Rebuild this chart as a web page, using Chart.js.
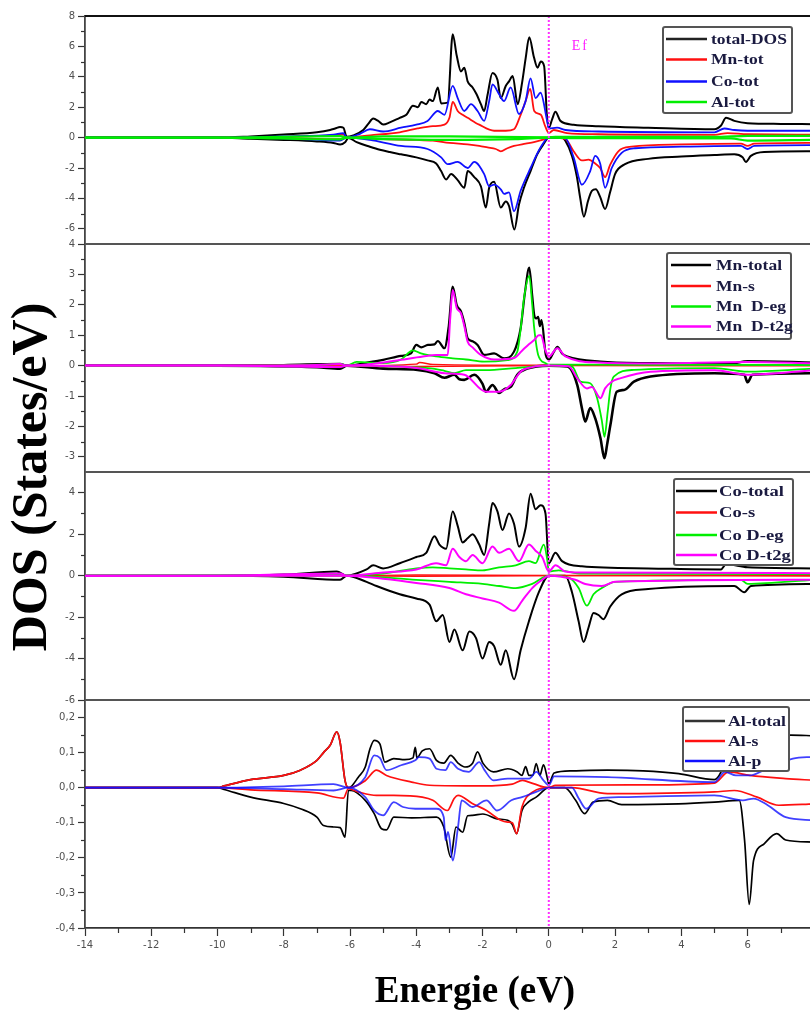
<!DOCTYPE html>
<html>
<head>
<meta charset="utf-8">
<title>DOS</title>
<script src="https://cdn.jsdelivr.net/npm/chart.js@4.4.0/dist/chart.umd.min.js"></script>
<style>
  html, body { margin: 0; padding: 0; background: #fff; overflow: hidden; }
  #wrap { position: relative; width: 810px; height: 1010px; overflow: hidden; }
  canvas { display: block; }
</style>
</head>
<body>
<div id="wrap"><canvas id="chart" width="820" height="1010"></canvas></div>
<script>
// energy axis
const xTicks = [-14, -12, -10, -8, -6, -4, -2, 0, 2, 4, 6, 8];
const xMinor = [-13, -11, -9, -7, -5, -3, -1, 1, 3, 5, 7];

// panel 1 : total DOS
const p1Labels = ['total-DOS', 'Mn-tot', 'Co-tot', 'Al-tot'];
const p1Ticks = [-6, -4, -2, 0, 2, 4, 6, 8];
const p1Minor = [-5, -3, -1, 1, 3, 5, 7];
const totalUp = [[-14,0],[-10,0],[-9,0.08],[-8,0.2],[-7,0.35],[-6.6,0.5],[-6.45,0.6],[-6.3,0.7],[-6.2,0.65],[-6.1,0.05],[-5.9,0.15],[-5.6,0.5],[-5.45,0.9],[-5.3,1.25],[-5.15,1.1],[-5.0,0.86],[-4.8,1.0],[-4.5,1.3],[-4.3,1.5],[-4.1,2.1],[-3.95,2.0],[-3.85,2.35],[-3.7,2.2],[-3.6,2.5],[-3.5,2.4],[-3.35,3.3],[-3.25,2.25],[-3.05,2.3],[-2.9,6.8],[-2.78,5.4],[-2.65,4.35],[-2.55,4.6],[-2.45,3.7],[-2.3,3.3],[-2.18,2.85],[-2.05,2.2],[-1.95,1.75],[-1.85,2.8],[-1.7,4.25],[-1.55,3.8],[-1.45,2.6],[-1.3,3.4],[-1.2,3.7],[-1.09,4.05],[-0.94,2.2],[-0.8,3.7],[-0.7,5.2],[-0.59,6.6],[-0.45,5.3],[-0.34,4.6],[-0.24,5.0],[-0.14,4.7],[-0.06,1.55],[0,0.65],[0.1,1.2],[0.2,1.7],[0.35,1.1],[0.75,0.85],[1.5,0.75],[3,0.65],[5.0,0.55],[5.2,0.8],[5.35,1.3],[5.6,1.1],[6.0,0.95],[7,0.9],[8,0.88]];
const totalDn = [[-14,0],[-10,0],[-9,-0.08],[-8,-0.15],[-7,-0.25],[-6.5,-0.35],[-6.3,-0.45],[-6.15,-0.3],[-6.05,-0.02],[-5.8,-0.3],[-5.4,-0.6],[-5.1,-0.8],[-4.8,-0.95],[-4.46,-1.1],[-4.0,-1.3],[-3.66,-1.5],[-3.4,-1.7],[-3.25,-2.2],[-3.1,-2.75],[-2.95,-2.4],[-2.75,-2.8],[-2.55,-3.3],[-2.45,-2.2],[-2.25,-2.6],[-2.05,-3.2],[-1.9,-4.6],[-1.8,-3.3],[-1.65,-2.9],[-1.45,-4.6],[-1.3,-4.2],[-1.2,-4.5],[-1.04,-6.05],[-0.9,-4.4],[-0.75,-3.3],[-0.55,-2.2],[-0.35,-1.1],[-0.15,-0.4],[0,0],[0.4,0],[0.5,-0.2],[0.7,-1.2],[0.85,-2.6],[0.95,-4.0],[1.06,-5.2],[1.18,-4.2],[1.3,-3.5],[1.42,-3.4],[1.55,-3.9],[1.7,-4.7],[1.85,-3.6],[2.0,-2.4],[2.3,-1.75],[3,-1.4],[4,-1.25],[5,-1.15],[5.6,-1.1],[5.85,-1.3],[5.95,-1.6],[6.1,-1.2],[6.5,-0.95],[8,-0.9]];
const mnUp = [[-14,0],[-10,0],[-8,0.05],[-6.5,0.15],[-6.2,0.2],[-6.1,0],[-5.4,0.15],[-4.5,0.35],[-3.96,0.6],[-3.5,0.75],[-3.15,0.85],[-3.0,1.3],[-2.9,2.35],[-2.75,1.75],[-2.6,1.5],[-2.45,1.3],[-2.1,0.85],[-1.65,0.45],[-1.3,0.45],[-1.05,0.55],[-0.85,1.5],[-0.7,2.4],[-0.56,3.2],[-0.44,1.75],[-0.24,1.5],[-0.1,0.7],[0,0.3],[0.15,0.5],[0.55,0.3],[1.5,0.22],[5,0.18],[5.4,0.3],[6,0.22],[8,0.2]];
const mnDn = [[-14,0],[-10,0],[-8,-0.03],[-6.3,-0.1],[-6.1,0],[-5,-0.1],[-4,-0.15],[-3.5,-0.2],[-3.0,-0.35],[-2.45,-0.45],[-2.1,-0.55],[-1.85,-0.65],[-1.6,-0.75],[-1.45,-0.9],[-1.25,-0.7],[-1.05,-0.55],[-0.7,-0.4],[-0.45,-0.3],[-0.2,-0.15],[0,0],[0.5,-0.1],[0.75,-0.9],[1.0,-1.5],[1.2,-1.45],[1.4,-1.7],[1.55,-2.0],[1.7,-2.6],[1.85,-1.8],[2.1,-0.9],[2.5,-0.6],[4,-0.45],[5.8,-0.4],[6.0,-0.55],[6.2,-0.4],[8,-0.35]];
const coUp = [[-14,0],[-10,0],[-8,0.08],[-6.5,0.2],[-6.2,0.3],[-6.1,0],[-5.7,0.25],[-5.4,0.55],[-5.0,0.4],[-4.46,0.65],[-4.0,0.85],[-3.66,1.1],[-3.35,1.75],[-3.15,1.5],[-2.9,3.4],[-2.75,2.6],[-2.55,1.75],[-2.35,2.2],[-2.15,1.75],[-1.95,1.1],[-1.8,2.4],[-1.7,3.5],[-1.5,2.85],[-1.35,2.4],[-1.15,3.3],[-0.9,1.55],[-0.7,2.4],[-0.55,3.9],[-0.4,2.6],[-0.25,2.95],[-0.05,1.1],[0,0.6],[0.25,0.65],[0.5,0.5],[1.5,0.4],[5,0.35],[5.3,0.6],[5.6,0.5],[6,0.45],[8,0.45]];
const coDn = [[-14,0],[-10,0],[-8,-0.05],[-6.3,-0.2],[-6.1,0],[-5.4,-0.15],[-4.46,-0.55],[-3.66,-0.75],[-3.25,-1.3],[-3.05,-1.75],[-2.75,-1.6],[-2.45,-2.0],[-2.25,-1.6],[-1.95,-2.4],[-1.8,-3.2],[-1.65,-3.1],[-1.45,-3.4],[-1.35,-3.7],[-1.2,-3.6],[-1.05,-4.85],[-0.85,-3.5],[-0.55,-2.0],[-0.25,-0.65],[0,0],[0.5,-0.05],[0.75,-1.3],[1.0,-3.1],[1.25,-2.2],[1.4,-1.2],[1.55,-1.7],[1.7,-3.3],[1.9,-2.0],[2.2,-1.0],[2.6,-0.7],[4,-0.6],[5.8,-0.55],[6.0,-0.75],[6.2,-0.55],[8,-0.5]];
const alUp = [[-14,0],[-10,0],[-6.3,0.1],[-6.1,0],[-5,0.08],[-3,0.08],[0,0.02],[0.2,0.05],[5,0.05],[6,0.12],[8,0.12]];
const alDn = [[-14,0],[-10,0],[-6.3,-0.12],[-6.1,0],[-5,-0.1],[-3,-0.15],[-1,-0.1],[0,0],[1,-0.04],[5.5,-0.05],[6,-0.2],[8,-0.15]];

// panel 2 : Mn
const p2Labels = ['Mn-total', 'Mn-s', 'Mn  D-eg', 'Mn  D-t2g'];
const p2Ticks = [-3, -2, -1, 0, 1, 2, 3, 4];
const p2Minor = [-2.5, -1.5, -0.5, 0.5, 1.5, 2.5, 3.5];
const mnTotUp = [[-14,0],[-10,0],[-8,0.02],[-6.3,0.06],[-6.1,0],[-5.36,0.12],[-5.0,0.19],[-4.46,0.32],[-4.16,0.4],[-4.0,0.68],[-3.85,0.6],[-3.65,0.68],[-3.45,0.7],[-3.35,0.81],[-3.15,0.57],[-3.02,1.3],[-2.9,2.6],[-2.78,2.0],[-2.65,1.78],[-2.55,1.4],[-2.45,0.9],[-2.3,0.8],[-2.15,0.68],[-1.95,0.35],[-1.65,0.4],[-1.35,0.24],[-1.05,0.46],[-0.85,1.23],[-0.72,2.4],[-0.59,3.22],[-0.5,2.3],[-0.44,1.67],[-0.38,1.55],[-0.32,1.6],[-0.27,1.3],[-0.22,1.5],[-0.09,0.35],[0.01,0.2],[0.15,0.45],[0.26,0.62],[0.4,0.4],[0.56,0.3],[1.56,0.13],[3.1,0.08],[5.5,0.06],[6,0.15],[8,0.1]];
const mnTotDn = [[-14,0],[-10,0],[-7,-0.05],[-6.3,-0.1],[-6.1,0],[-5,-0.1],[-3.96,-0.14],[-3.45,-0.25],[-3.15,-0.4],[-2.85,-0.3],[-2.7,-0.45],[-2.55,-0.47],[-2.25,-0.3],[-2.0,-0.6],[-1.9,-0.86],[-1.7,-0.64],[-1.5,-0.9],[-1.35,-0.78],[-1.15,-0.7],[-0.95,-0.3],[-0.65,-0.1],[0,0],[0.56,-0.03],[0.86,-0.64],[1.0,-1.4],[1.1,-1.84],[1.25,-1.4],[1.4,-1.73],[1.56,-2.39],[1.68,-3.05],[1.76,-2.6],[1.86,-1.95],[2.05,-0.86],[2.27,-0.8],[2.57,-0.53],[3.07,-0.36],[5,-0.25],[5.9,-0.3],[6.0,-0.55],[6.15,-0.3],[8,-0.25]];
const mnSUp = [[-14,0],[-10,0],[-6.3,0.02],[-6.1,0],[-4,0.05],[-3.9,0.1],[-3.5,0.04],[0,0.01],[8,0.01]];
const mnSDn = [[-14,0],[-10,0],[-4,-0.03],[0,0],[8,-0.01]];
const mnEgUp = [[-14,0],[-10,0],[-7,0.02],[-6.3,0.06],[-6.1,0],[-5.8,0.12],[-5,0.08],[-4.46,0.2],[-4.1,0.5],[-3.86,0.4],[-3.4,0.3],[-2.9,0.24],[-2.5,0.2],[-1.95,0.13],[-1.25,0.18],[-0.95,0.46],[-0.85,1.2],[-0.75,2.2],[-0.59,2.95],[-0.5,2.0],[-0.44,1.23],[-0.32,0.35],[-0.1,0.08],[0,0.03],[8,0.02]];
const mnEgDn = [[-14,0],[-10,0],[-6.3,-0.04],[-6.1,0],[-3.5,-0.1],[-3.15,-0.17],[-2.85,-0.25],[-2.5,-0.15],[-1.9,-0.15],[-1,-0.08],[0,0],[0.7,-0.03],[0.96,-0.53],[1.25,-0.58],[1.46,-1.07],[1.6,-1.8],[1.68,-2.34],[1.78,-1.5],[1.86,-0.75],[1.96,-0.36],[2.57,-0.14],[5,-0.08],[6,-0.2],[8,-0.1]];
const mnT2gUp = [[-14,0],[-10,0],[-7,0.02],[-6.3,0.05],[-6.1,0],[-5,0.1],[-4.46,0.19],[-3.8,0.3],[-3.4,0.35],[-3.05,0.35],[-2.98,1.5],[-2.9,2.49],[-2.78,1.9],[-2.65,1.72],[-2.55,1.3],[-2.45,0.79],[-2.3,0.6],[-2.05,0.35],[-1.65,0.2],[-1.05,0.25],[-0.8,0.5],[-0.6,0.7],[-0.44,0.84],[-0.3,1.0],[-0.24,1.0],[-0.1,0.5],[0,0.3],[0.26,0.57],[0.5,0.3],[1.5,0.1],[3,0.07],[6,0.12],[8,0.08]];
const mnT2gDn = [[-14,0],[-10,0],[-6.3,-0.05],[-6.1,0],[-4,-0.08],[-3.15,-0.25],[-2.55,-0.3],[-1.9,-0.86],[-1.5,-0.86],[-1.15,-0.64],[-0.85,-0.2],[-0.5,-0.05],[0,0],[0.6,-0.02],[0.86,-0.42],[1.15,-0.75],[1.3,-0.7],[1.56,-1.07],[1.7,-0.75],[1.9,-0.53],[2.15,-0.42],[3.07,-0.2],[5,-0.15],[6,-0.3],[8,-0.15]];

// panel 3 : Co
const p3Labels = ['Co-total', 'Co-s', 'Co D-eg', 'Co D-t2g'];
const p3Ticks = [-6, -4, -2, 0, 2, 4];
const p3Minor = [-5, -3, -1, 1, 3];
const coTotUp = [[-14,0],[-10,0],[-8,0.05],[-6.4,0.2],[-6.1,0],[-5.5,0.3],[-5.3,0.5],[-5.0,0.35],[-4.5,0.6],[-4.0,0.9],[-3.7,1.1],[-3.45,1.9],[-3.3,1.5],[-3.1,1.3],[-2.9,3.1],[-2.75,2.4],[-2.6,1.6],[-2.45,1.8],[-2.3,2.0],[-2.1,1.5],[-1.95,1.0],[-1.8,2.5],[-1.7,3.5],[-1.55,3.1],[-1.4,2.2],[-1.2,3.0],[-1.05,2.5],[-0.9,1.4],[-0.7,2.3],[-0.55,3.95],[-0.4,3.2],[-0.25,3.4],[-0.1,3.0],[0,0.6],[0.2,1.1],[0.4,0.7],[1,0.45],[3,0.35],[5.2,0.3],[5.35,0.55],[6,0.4],[8,0.35]];
const coTotDn = [[-14,0],[-10,0],[-8,-0.05],[-6.3,-0.2],[-6.1,0],[-5.5,-0.3],[-5.2,-0.5],[-4.5,-0.9],[-4.0,-1.1],[-3.6,-1.4],[-3.4,-2.2],[-3.2,-1.9],[-3.0,-3.2],[-2.85,-2.6],[-2.6,-3.6],[-2.4,-2.7],[-2.2,-3.0],[-2.0,-4.0],[-1.8,-3.2],[-1.65,-3.4],[-1.45,-4.3],[-1.3,-3.6],[-1.05,-5.0],[-0.85,-3.6],[-0.6,-2.2],[-0.3,-0.8],[0,0],[0.5,0],[0.7,-0.8],[0.9,-2.2],[1.05,-3.2],[1.2,-2.5],[1.35,-1.8],[1.5,-1.9],[1.65,-2.1],[1.85,-1.5],[2.2,-0.9],[3,-0.65],[5.6,-0.5],[5.9,-0.8],[6.1,-0.5],[8,-0.4]];
const coSUp = [[-14,0],[-10,0],[-6.1,0],[-4,0.03],[0,0.01],[8,0.02]];
const coSDn = [[-14,0],[-10,0],[-6.1,0],[-4,-0.03],[0,0],[8,-0.02]];
const coEgUp = [[-14,0],[-10,0],[-6.3,0.05],[-6.1,0],[-5,0.1],[-4,0.35],[-3.5,0.4],[-3,0.35],[-2.5,0.3],[-2,0.25],[-1.5,0.4],[-1,0.5],[-0.6,0.7],[-0.4,0.6],[-0.15,1.5],[-0.05,0.8],[0,0.2],[0.3,0.25],[1,0.1],[8,0.08]];
const coEgDn = [[-14,0],[-10,0],[-6.1,0],[-4,-0.2],[-3,-0.3],[-2,-0.4],[-1.5,-0.5],[-1,-0.6],[-0.5,-0.4],[0,0],[0.6,-0.1],[0.9,-0.6],[1.15,-1.45],[1.35,-0.9],[1.6,-0.6],[2,-0.3],[5.8,-0.2],[6,-0.4],[8,-0.2]];
const coT2gUp = [[-14,0],[-10,0],[-6.3,0.1],[-6.1,0],[-5,0.15],[-4,0.3],[-3.4,0.6],[-3.1,0.5],[-2.9,1.3],[-2.7,0.9],[-2.5,0.7],[-2.3,1.0],[-2.0,0.6],[-1.7,1.4],[-1.5,1.1],[-1.2,1.3],[-0.9,0.7],[-0.6,1.5],[-0.4,1.2],[-0.2,0.9],[0,0.2],[0.2,0.5],[0.5,0.2],[1,0.15],[8,0.12]];
const coT2gDn = [[-14,0],[-10,0],[-6.1,0],[-5,-0.15],[-4,-0.35],[-3,-0.6],[-2.5,-0.9],[-2,-1.1],[-1.5,-1.3],[-1.05,-1.7],[-0.8,-1.2],[-0.5,-0.6],[-0.2,-0.2],[0,0],[0.8,-0.2],[1.1,-0.4],[1.6,-0.5],[2,-0.3],[8,-0.2]];

// panel 4 : Al
const p4Labels = ['Al-total', 'Al-s', 'Al-p'];
const p4Ticks = [-0.4, -0.3, -0.2, -0.1, 0, 0.1, 0.2];
const p4Minor = [-0.35, -0.25, -0.15, -0.05, 0.05, 0.15];
const alTotUp = [[-14,0],[-10,0],[-9.8,0.005],[-9,0.023],[-8,0.035],[-7.5,0.05],[-7,0.078],[-6.8,0.1],[-6.6,0.121],[-6.4,0.159],[-6.3,0.13],[-6.15,0.02],[-6.05,0],[-5.97,0.003],[-5.75,0.03],[-5.54,0.059],[-5.4,0.11],[-5.27,0.135],[-5.1,0.125],[-4.95,0.073],[-4.68,0.083],[-4.35,0.08],[-4.1,0.085],[-4.03,0.115],[-3.98,0.085],[-3.82,0.105],[-3.6,0.111],[-3.39,0.078],[-3.17,0.07],[-2.96,0.092],[-2.74,0.07],[-2.53,0.059],[-2.3,0.07],[-2.15,0.102],[-1.99,0.07],[-1.67,0.045],[-1.24,0.054],[-0.95,0.045],[-0.81,0.035],[-0.7,0.06],[-0.6,0.035],[-0.48,0.035],[-0.38,0.069],[-0.27,0.035],[-0.16,0.065],[-0.05,0.03],[0,0.011],[0.16,0.042],[0.7,0.048],[1.77,0.05],[2.85,0.048],[3.92,0.04],[5.0,0.023],[5.2,0.045],[5.4,0.1],[5.8,0.13],[6.2,0.14],[7,0.145],[7.3,0.15],[8,0.148]];
const alTotDn = [[-14,0],[-10,0],[-9.8,-0.005],[-9,-0.027],[-8,-0.045],[-7.5,-0.06],[-7,-0.084],[-6.8,-0.108],[-6.5,-0.112],[-6.3,-0.114],[-6.15,-0.141],[-6.05,-0.008],[-5.97,-0.008],[-5.54,-0.036],[-5.27,-0.074],[-5.05,-0.117],[-4.9,-0.12],[-4.68,-0.084],[-4.14,-0.086],[-3.39,-0.084],[-3.17,-0.112],[-2.96,-0.198],[-2.8,-0.112],[-2.6,-0.127],[-2.45,-0.08],[-2.31,-0.079],[-1.99,-0.075],[-1.56,-0.089],[-1.24,-0.093],[-1.1,-0.105],[-0.97,-0.131],[-0.81,-0.065],[-0.6,-0.04],[-0.38,-0.027],[0,0],[0.48,0],[0.81,-0.036],[1.08,-0.074],[1.34,-0.041],[1.77,-0.036],[2.2,-0.048],[3.92,-0.046],[5.0,-0.041],[5.75,-0.036],[5.91,-0.15],[6.05,-0.333],[6.18,-0.208],[6.5,-0.16],[6.88,-0.131],[7.15,-0.149],[8,-0.155]];
const alSUp = [[-14,0],[-10,0],[-9.8,0.005],[-9,0.023],[-8,0.035],[-7.5,0.05],[-7,0.078],[-6.8,0.1],[-6.6,0.121],[-6.4,0.159],[-6.3,0.13],[-6.15,0.02],[-6.05,0],[-5.54,0.02],[-5.2,0.05],[-4.9,0.035],[-4.14,0.016],[-3.6,0.007],[-2,0.005],[-1.1,0.01],[-0.8,0.021],[-0.6,0.016],[0,0],[0.2,0.007],[3,0.008],[5.0,0.013],[5.43,0.045],[6.07,0.035],[7.15,0.026],[8,0.021]];
const alSDn = [[-14,0],[-10,0],[-9,-0.006],[-7,-0.015],[-6.2,-0.03],[-6.05,-0.003],[-5.75,-0.012],[-5.2,-0.022],[-4.68,-0.022],[-3.82,-0.027],[-3.5,-0.036],[-3.06,-0.065],[-2.85,-0.03],[-2.74,-0.022],[-2.31,-0.045],[-1.88,-0.065],[-1.45,-0.093],[-1.24,-0.098],[-1.1,-0.1],[-0.97,-0.131],[-0.81,-0.055],[-0.48,-0.012],[0,0],[0.7,0],[1.77,-0.017],[5.0,-0.012],[5.6,-0.008],[6.29,-0.027],[6.94,-0.05],[8,-0.046]];
const alPUp = [[-14,0],[-10,0],[-8,0.004],[-6.5,0.01],[-6.05,0],[-5.54,0.03],[-5.27,0.092],[-5.1,0.085],[-4.9,0.05],[-4.46,0.064],[-4.03,0.078],[-3.92,0.087],[-3.6,0.083],[-3.39,0.054],[-3.12,0.05],[-2.96,0.073],[-2.74,0.054],[-2.42,0.045],[-2.1,0.073],[-1.94,0.05],[-1.67,0.021],[-1.24,0.026],[-0.59,0.026],[-0.38,0.045],[-0.16,0.021],[0,0.007],[0.16,0.032],[1.77,0.03],[5.0,0.016],[5.32,0.045],[5.65,0.035],[6.07,0.035],[6.5,0.05],[7.37,0.083],[8,0.088]];
const alPDn = [[-14,0],[-10,0],[-8,-0.004],[-6.5,-0.008],[-6.05,0],[-5.54,-0.027],[-5.27,-0.065],[-5.0,-0.079],[-4.68,-0.041],[-4.4,-0.055],[-4.03,-0.06],[-3.39,-0.06],[-3.17,-0.084],[-3.12,-0.15],[-3.04,-0.126],[-2.9,-0.208],[-2.74,-0.112],[-2.63,-0.036],[-2.31,-0.055],[-1.88,-0.036],[-1.56,-0.065],[-1.13,-0.036],[-0.81,-0.027],[-0.38,-0.012],[0,0],[0.7,0],[0.9,-0.03],[1.13,-0.06],[1.5,-0.031],[2.2,-0.027],[5.0,-0.022],[5.86,-0.036],[6.18,-0.031],[6.61,-0.05],[7.15,-0.084],[8,-0.093]];

const BLACK = '#000000', RED = '#ff1010', BLUE = '#1010ff', GREEN = '#00ee00', MAGENTA = '#ff00ff';
const tickFont = { family: 'DejaVu Sans', size: 10 };
const tickColor = '#505050';

function ds(label, pts, color, axis, width) {
  return {
    label,
    data: pts.map(p => ({ x: p[0], y: p[1] })),
    borderColor: color,
    borderWidth: width || 1.8,
    pointRadius: 0,
    cubicInterpolationMode: 'monotone',
    fill: false,
    yAxisID: axis
  };
}

// listed bottom layer first, reversed below so later ones paint on top
let datasets = [
  ds(p1Labels[0], totalUp, BLACK, 'y1', 2), ds(p1Labels[0], totalDn, BLACK, 'y1', 2),
  ds(p1Labels[1], mnUp, RED, 'y1'), ds(p1Labels[1], mnDn, RED, 'y1'),
  ds(p1Labels[2], coUp, BLUE, 'y1'), ds(p1Labels[2], coDn, BLUE, 'y1'),
  ds(p1Labels[3], alUp, GREEN, 'y1', 2.2), ds(p1Labels[3], alDn, GREEN, 'y1', 2.2),

  ds(p2Labels[0], mnTotUp, BLACK, 'y2', 2.2), ds(p2Labels[0], mnTotDn, BLACK, 'y2', 2.6),
  ds(p2Labels[1], mnSUp, RED, 'y2', 1.4), ds(p2Labels[1], mnSDn, RED, 'y2', 1.4),
  ds(p2Labels[2], mnEgUp, GREEN, 'y2'), ds(p2Labels[2], mnEgDn, GREEN, 'y2'),
  ds(p2Labels[3], mnT2gUp, MAGENTA, 'y2', 2), ds(p2Labels[3], mnT2gDn, MAGENTA, 'y2', 2),

  ds(p3Labels[0], coTotUp, BLACK, 'y3', 2), ds(p3Labels[0], coTotDn, BLACK, 'y3', 2),
  ds(p3Labels[1], coSUp, RED, 'y3', 1.4), ds(p3Labels[1], coSDn, RED, 'y3', 1.4),
  ds(p3Labels[2], coEgUp, GREEN, 'y3'), ds(p3Labels[2], coEgDn, GREEN, 'y3'),
  ds(p3Labels[3], coT2gUp, MAGENTA, 'y3', 2), ds(p3Labels[3], coT2gDn, MAGENTA, 'y3', 2),

  ds(p4Labels[0], alTotUp, BLACK, 'y4', 1.7), ds(p4Labels[0], alTotDn, BLACK, 'y4', 1.7),
  ds(p4Labels[1], alSUp, RED, 'y4', 1.7), ds(p4Labels[1], alSDn, RED, 'y4', 1.7),
  ds(p4Labels[2], alPUp, 'rgba(16,16,255,0.8)', 'y4', 1.8), ds(p4Labels[2], alPDn, 'rgba(16,16,255,0.8)', 'y4', 1.8)
];
datasets = datasets.reverse();

function yAxis(min, max, ticks, weight, fmt) {
  return {
    type: 'linear', position: 'left', stack: 'dos', stackWeight: 1, weight: weight,
    min: min, max: max,
    afterBuildTicks: s => { s.ticks = ticks.map(v => ({ value: v })); },
    afterFit: s => { s.width = 85; },
    ticks: { font: tickFont, color: tickColor, padding: 3, autoSkip: false, callback: fmt || (v => String(v)) },
    grid: { drawOnChartArea: false, tickLength: 7, tickColor: '#333', tickWidth: 1.2 },
    border: { color: '#444', width: 1.8 }
  };
}

const minorTicks = { y1: p1Minor, y2: p2Minor, y3: p3Minor, y4: p4Minor };

const legends = [
  { axis: 'y1', box: [663, 27, 129, 86], rows: [39, 59.5, 81.5, 102], line: [666, 707], textX: 711, textW: 76,
    labels: p1Labels, colors: ['#222', RED, BLUE, GREEN] },
  { axis: 'y2', box: [667, 253, 124, 86], rows: [265, 286, 306.5, 326.5], line: [671, 711], textX: 716, textW: 66,
    labels: p2Labels, colors: [BLACK, RED, GREEN, MAGENTA] },
  { axis: 'y3', box: [674, 479, 119, 86], rows: [491, 512.5, 535, 555], line: [676, 717], textX: 719, textW: 65,
    labels: p3Labels, colors: [BLACK, RED, GREEN, MAGENTA] },
  { axis: 'y4', box: [683, 707, 106, 64], rows: [721, 741, 761], line: [685, 725], textX: 728, textW: 58,
    labels: p4Labels, colors: ['#333', RED, BLUE] }
];

const decor = {
  id: 'decor',
  afterDatasetsDraw(chart) {
    const { ctx, chartArea, scales } = chart;
    const x0 = scales.x.getPixelForValue(0);
    ctx.save();
    ctx.strokeStyle = '#ff30ff';
    ctx.lineWidth = 2;
    ctx.setLineDash([2, 2]);
    ctx.beginPath();
    ctx.moveTo(x0, chartArea.top);
    ctx.lineTo(x0, chartArea.bottom);
    ctx.stroke();
    ctx.restore();
  },
  afterDraw(chart) {
    const { ctx, chartArea, scales } = chart;
    const L = chartArea.left, R = chartArea.right;
    ctx.save();
    // panel frames
    ['y1', 'y2', 'y3', 'y4'].forEach(id => {
      const s = scales[id];
      ctx.strokeStyle = id === 'y1' ? '#111' : '#555';
      ctx.lineWidth = id === 'y1' ? 2 : 1.8;
      ctx.beginPath();
      ctx.moveTo(L, s.top); ctx.lineTo(R, s.top); ctx.lineTo(R, s.bottom);
      ctx.stroke();
      // minor ticks
      ctx.strokeStyle = '#333';
      ctx.lineWidth = 1.2;
      minorTicks[id].forEach(v => {
        const y = Math.round(s.getPixelForValue(v)) + 0.5;
        ctx.beginPath(); ctx.moveTo(L - 4, y); ctx.lineTo(L, y); ctx.stroke();
      });
    });
    const xs = scales.x;
    xMinor.forEach(v => {
      const x = Math.round(xs.getPixelForValue(v)) + 0.5;
      ctx.beginPath(); ctx.moveTo(x, chartArea.bottom); ctx.lineTo(x, chartArea.bottom + 5); ctx.stroke();
    });

    // Ef label
    ctx.fillStyle = '#ff20ff';
    ctx.font = '14px "Liberation Serif"';
    ctx.letterSpacing = '2px';
    ctx.textBaseline = 'middle';
    ctx.textAlign = 'left';
    ctx.fillText('Ef', xs.getPixelForValue(0) + 23, 46);
    ctx.letterSpacing = '0px';

    // legends
    legends.forEach(lg => {
      ctx.fillStyle = '#fff';
      ctx.fillRect(lg.box[0], lg.box[1], lg.box[2], lg.box[3]);
      ctx.strokeStyle = '#555';
      ctx.lineWidth = 2;
      ctx.beginPath();
      ctx.roundRect(lg.box[0], lg.box[1], lg.box[2], lg.box[3], 2);
      ctx.stroke();
      ctx.font = 'bold 15px "Liberation Serif"';
      const sx = lg.textW / ctx.measureText(lg.labels[0]).width;
      lg.labels.forEach((t, i) => {
        const y = lg.rows[i];
        ctx.strokeStyle = lg.colors[i];
        ctx.lineWidth = 2.5;
        ctx.beginPath(); ctx.moveTo(lg.line[0], y); ctx.lineTo(lg.line[1], y); ctx.stroke();
        ctx.save();
        ctx.translate(lg.textX, y);
        ctx.scale(sx, 1);
        ctx.fillStyle = '#1a1a40';
        ctx.textBaseline = 'middle';
        ctx.fillText(t, 0, 1);
        ctx.restore();
      });
    });

    // axis titles
    ctx.fillStyle = '#000';
    ctx.textAlign = 'center';
    ctx.textBaseline = 'alphabetic';
    ctx.font = 'bold 37px "Liberation Serif"';
    ctx.fillText('Energie (eV)', 475, 1002);
    ctx.save();
    ctx.translate(33, 477);
    ctx.rotate(-Math.PI / 2);
    ctx.textBaseline = 'middle';
    ctx.font = 'bold 50px "Liberation Serif"';
    ctx.fillText('DOS (States/eV)', 0, 0);
    ctx.restore();
    ctx.restore();
  }
};

new Chart(document.getElementById('chart'), {
  type: 'line',
  data: { datasets: datasets },
  options: {
    responsive: false,
    animation: false,
    layout: { padding: { top: 16, right: 6, left: 0, bottom: 0 } },
    plugins: { legend: { display: false }, tooltip: { enabled: false } },
    scales: {
      x: {
        type: 'linear', position: 'bottom', min: -14, max: 8,
        afterBuildTicks: s => { s.ticks = xTicks.map(v => ({ value: v })); },
        afterFit: s => { s.height = 82; },
        ticks: { font: tickFont, color: tickColor, padding: 3, autoSkip: false, maxRotation: 0, callback: v => String(v) },
        grid: { drawOnChartArea: false, tickLength: 8, tickColor: '#333', tickWidth: 1.2 },
        border: { color: '#333', width: 1.8 }
      },
      y1: yAxis(-7, 8, p1Ticks, 4),
      y2: yAxis(-3.5, 4, p2Ticks, 3),
      y3: yAxis(-6, 5, p3Ticks, 2),
      y4: yAxis(-0.4, 0.25, p4Ticks, 1, v => v.toFixed(1).replace('.', ','))
    }
  },
  plugins: [decor]
});
</script>
</body>
</html>
